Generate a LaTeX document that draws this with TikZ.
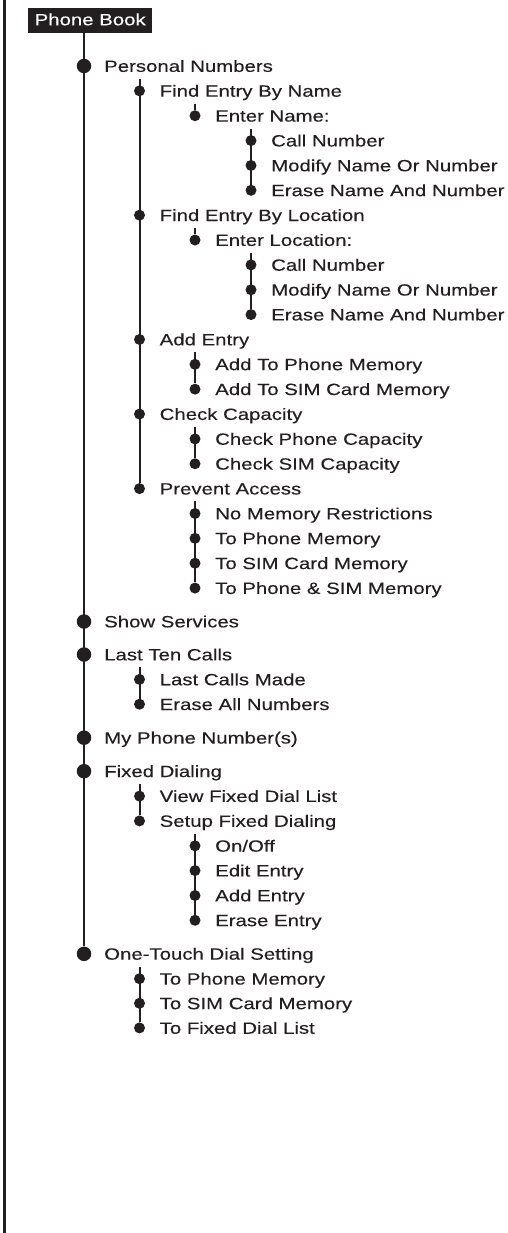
\documentclass[tikz,border=0pt]{standalone}
\usepackage{fontspec}
\usetikzlibrary{calc}
\newfontfamily\wf[FakeStretch=1.25,FakeBold=0.25]{Liberation Sans}
\definecolor{ink}{RGB}{35,31,32}
\tikzset{
  bigdot/.style={circle, fill=ink, draw=none, inner sep=0pt, minimum size=14.5pt},
  smalldot/.style={circle, fill=ink, draw=none, inner sep=0pt, minimum size=11pt},
  item/.style={anchor=base west, inner sep=0pt, font=\wf\fontsize{16.3}{18}\selectfont, text=ink},
  header/.style={anchor=north west, fill=ink, text=white, inner sep=0pt, minimum width=124pt, minimum height=25pt, text height=11.7pt, text depth=2.6pt, font=\wf\fontsize{16.3}{18}\selectfont},
  trunk/.style={draw=ink, line width=2pt},
  border/.style={draw=ink, line width=2.3pt}
}
\newcommand\bigitem[4]{\node[bigdot] (#1) at (#2,#3) {}; \node[item] (#1t) at ($(#1)+(20,5.85)$) {#4};}
\newcommand\smallitem[4]{\node[smalldot] (#1) at (#2,#3) {}; \node[item] (#1t) at ($(#1)+(20,5.85)$) {#4};}
\newcommand\branch[3]{\coordinate (#1) at ($(#2)+(0,-12)$); \draw[trunk] (#1) -- (#3);}
\begin{document}
\begin{tikzpicture}[x=1pt,y=-1pt]
\useasboundingbox (0,0) rectangle (508,1233);
\coordinate (bt) at (4.5,0);
\coordinate (bb) at (4.5,1233);
\draw[border] (bt) -- (bb);
\node[header] (pb) at (28,8) {Phone Book};

% level 1
\bigitem{a}{84}{66}{Personal Numbers}
\bigitem{b}{84}{621.5}{Show Services}
\bigitem{c}{84}{654.5}{Last Ten Calls}
\bigitem{d}{84}{737.7}{My Phone Number(s)}
\bigitem{e}{84}{771.2}{Fixed Dialing}
\bigitem{f}{84}{953.8}{One-Touch Dial Setting}
\draw[trunk] (pb.south -| a) -- (f);

% Personal Numbers
\smallitem{a1}{139.5}{90.86}{Find Entry By Name}
\smallitem{a2}{139.5}{215.16}{Find Entry By Location}
\smallitem{a3}{139.5}{339.46}{Add Entry}
\smallitem{a4}{139.5}{414.04}{Check Capacity}
\smallitem{a5}{139.5}{488.62}{Prevent Access}
\branch{ta}{a1}{a5}

\smallitem{a11}{195}{115.72}{Enter Name:}
\branch{ta1}{a11}{a11}
\smallitem{a111}{251}{140.58}{Call Number}
\smallitem{a112}{251}{165.44}{Modify Name Or Number}
\smallitem{a113}{251}{190.3}{Erase Name And Number}
\branch{ta11}{a111}{a113}

\smallitem{a21}{195}{240.02}{Enter Location:}
\branch{ta2}{a21}{a21}
\smallitem{a211}{251}{264.88}{Call Number}
\smallitem{a212}{251}{289.74}{Modify Name Or Number}
\smallitem{a213}{251}{314.6}{Erase Name And Number}
\branch{ta21}{a211}{a213}

\smallitem{a31}{195}{364.32}{Add To Phone Memory}
\smallitem{a32}{195}{389.18}{Add To SIM Card Memory}
\branch{ta3}{a31}{a32}

\smallitem{a41}{195}{438.9}{Check Phone Capacity}
\smallitem{a42}{195}{463.76}{Check SIM Capacity}
\branch{ta4}{a41}{a42}

\smallitem{a51}{195}{513.48}{No Memory Restrictions}
\smallitem{a52}{195}{538.34}{To Phone Memory}
\smallitem{a53}{195}{563.2}{To SIM Card Memory}
\smallitem{a54}{195}{588.06}{To Phone \& SIM Memory}
\branch{ta5}{a51}{a54}

% Last Ten Calls
\smallitem{c1}{139.5}{679.4}{Last Calls Made}
\smallitem{c2}{139.5}{704.2}{Erase All Numbers}
\branch{tc}{c1}{c2}

% Fixed Dialing
\smallitem{e1}{139.5}{796.1}{View Fixed Dial List}
\smallitem{e2}{139.5}{820.9}{Setup Fixed Dialing}
\branch{te}{e1}{e2}
\smallitem{e21}{195}{845.8}{On/Off}
\smallitem{e22}{195}{870.6}{Edit Entry}
\smallitem{e23}{195}{895.5}{Add Entry}
\smallitem{e24}{195}{920.3}{Erase Entry}
\branch{te2}{e21}{e24}

% One-Touch Dial Setting
\smallitem{f1}{139.5}{978.7}{To Phone Memory}
\smallitem{f2}{139.5}{1003.3}{To SIM Card Memory}
\smallitem{f3}{139.5}{1027.9}{To Fixed Dial List}
\branch{tf}{f1}{f3}
\end{tikzpicture}
\end{document}
